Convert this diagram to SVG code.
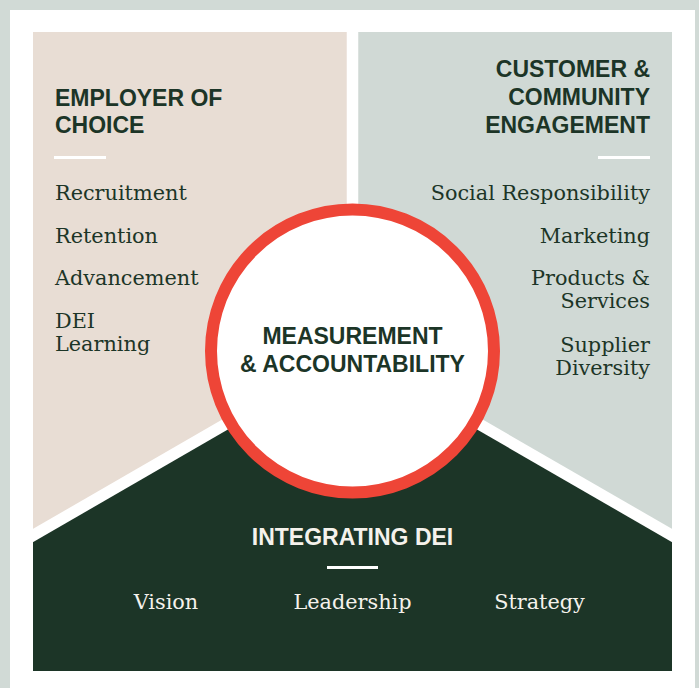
<svg xmlns="http://www.w3.org/2000/svg" width="699" height="688" viewBox="0 0 699 688">
  <style>
    .head { font-family: "Liberation Sans", Arial, sans-serif; font-weight: 700; font-size: 23px; fill: #1c3527; }
    .item { font-family: "DejaVu Serif", "Liberation Serif", serif; font-size: 20.8px; fill: #1c3527; }
    .light { fill: #f5f2ec; }
    .rule { fill: #ffffff; }
    .sep { stroke: #ffffff; stroke-width: 11.5; fill: none; }
  </style>

  <!-- frame -->
  <rect x="0" y="0" width="699" height="688" fill="#d1dad6"/>
  <rect x="10" y="10" width="685" height="678" fill="#ffffff"/>

  <!-- Employer of Choice -->
  <g id="employer-of-choice">
    <polygon points="33,32 352.5,32 352.5,351 33,535.5" fill="#e8ddd4"/>
    <text class="head" x="55" y="105.7">EMPLOYER OF</text>
    <text class="head" x="55" y="133.3">CHOICE</text>
    <rect class="rule" x="54" y="156" width="52" height="3"/>
    <text class="item" x="55" y="200">Recruitment</text>
    <text class="item" x="55" y="242.5">Retention</text>
    <text class="item" x="55" y="285">Advancement</text>
    <text class="item" x="55" y="328">DEI</text>
    <text class="item" x="55" y="350.5">Learning</text>
  </g>

  <!-- Customer & Community Engagement -->
  <g id="customer-community-engagement">
    <polygon points="352.5,32 672,32 672,535.5 352.5,351" fill="#d0d9d5"/>
    <g text-anchor="end">
      <text class="head" x="650" y="77">CUSTOMER &amp;</text>
      <text class="head" x="650" y="105">COMMUNITY</text>
      <text class="head" x="650" y="133">ENGAGEMENT</text>
      <rect class="rule" x="598" y="156" width="52" height="3"/>
      <text class="item" x="650" y="200">Social Responsibility</text>
      <text class="item" x="650" y="242.5">Marketing</text>
      <text class="item" x="650" y="285">Products &amp;</text>
      <text class="item" x="650" y="308">Services</text>
      <text class="item" x="650" y="351.5">Supplier</text>
      <text class="item" x="650" y="374.5">Diversity</text>
    </g>
  </g>

  <!-- Integrating DEI -->
  <g id="integrating-dei">
    <polygon points="33,535.5 352.5,351 672,535.5 672,671 33,671" fill="#1c3527"/>
    <text class="head light" x="352.5" y="545" text-anchor="middle">INTEGRATING DEI</text>
    <rect class="rule" x="327" y="566" width="51" height="3"/>
    <g text-anchor="middle">
      <text class="item light" x="166" y="609">Vision</text>
      <text class="item light" x="352.5" y="609">Leadership</text>
      <text class="item light" x="539.5" y="609">Strategy</text>
    </g>
  </g>

  <!-- white gutters between the three areas -->
  <g id="separators">
    <line class="sep" x1="352.5" y1="20" x2="352.5" y2="351"/>
    <line class="sep" x1="352.5" y1="351" x2="20" y2="543"/>
    <line class="sep" x1="352.5" y1="351" x2="685" y2="543"/>
  </g>

  <!-- Measurement & Accountability hub -->
  <g id="measurement-accountability">
    <circle cx="352.5" cy="351" r="141.5" fill="#ffffff" stroke="#ee4537" stroke-width="12"/>
    <g text-anchor="middle">
      <text class="head" x="352.5" y="344">MEASUREMENT</text>
      <text class="head" x="352.5" y="371.7">&amp; ACCOUNTABILITY</text>
    </g>
  </g>
</svg>
